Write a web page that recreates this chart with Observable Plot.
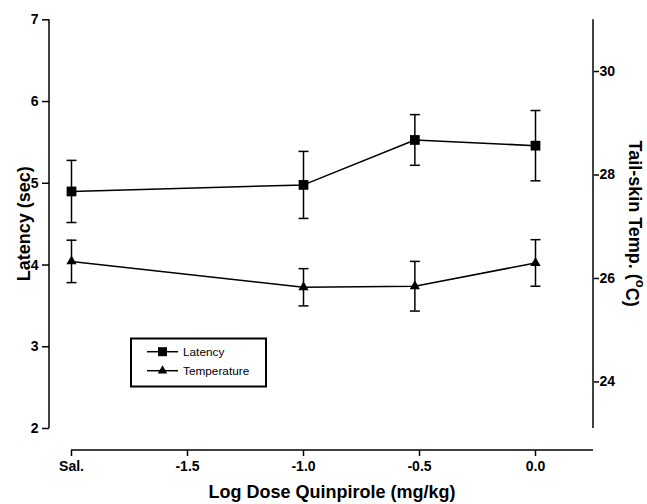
<!DOCTYPE html>
<html><head><meta charset="utf-8">
<script src="https://cdn.jsdelivr.net/npm/d3@7"></script>
<script src="https://cdn.jsdelivr.net/npm/@observablehq/plot@0.6"></script>
<style>body{margin:0;background:#fff}</style>
</head><body><div id="chart"></div>
<script>
const doses = [-2, -1, -0.52, 0];
const latency = [4.90, 4.98, 5.53, 5.46];
const latencyErr = [0.38, 0.41, 0.31, 0.43];
const temperature = [26.33, 25.83, 25.85, 26.30];
const temperatureErr = [0.41, 0.36, 0.48, 0.45];
const xTicks = [-2, -1.5, -1, -0.5, 0];
const xTickLabels = ["Sal.", "-1.5", "-1.0", "-0.5", "0.0"];
const latencyTicks = [2, 3, 4, 5, 6, 7];
const tempTicks = [24, 26, 28, 30];
const xDomain = [-2, 0.25];
const latencyDomain = [2, 7];
const tempDomain = [23.1, 31];
const seriesNames = ["Latency", "Temperature"];

const FONT = "'Liberation Sans', Arial, Helvetica, sans-serif";
const t2l = d3.scaleLinear(tempDomain, latencyDomain);
const l2t = t2l.invert;

const latRows = doses.map((d, i) => ({x: d, y: latency[i], lo: latency[i] - latencyErr[i], hi: latency[i] + latencyErr[i]}));
const tempRows = doses.map((d, i) => ({x: d, y: t2l(temperature[i]), lo: t2l(temperature[i] - temperatureErr[i]), hi: t2l(temperature[i] + temperatureErr[i])}));

const cap = {draw(ctx) { ctx.moveTo(-5, 0); ctx.lineTo(5, 0); }};
const SW = 1.5;
const SQ_R = 5.5, TRI_R = 3.8;

function series(rows, symbol, r) {
  return [
    Plot.ruleX(rows, {x: "x", y1: "lo", y2: "hi", stroke: "black", strokeWidth: SW}),
    Plot.dot(rows, {x: "x", y: "lo", symbol: cap, r: 3, fill: "none", stroke: "black", strokeWidth: SW}),
    Plot.dot(rows, {x: "x", y: "hi", symbol: cap, r: 3, fill: "none", stroke: "black", strokeWidth: SW}),
    Plot.line(rows, {x: "x", y: "y", stroke: "black", strokeWidth: SW}),
    Plot.dot(rows, {x: "x", y: "y", symbol, r, fill: "black", stroke: "none"})
  ];
}

const chart = Plot.plot({
  width: 647,
  height: 504,
  marginTop: 19,
  marginRight: 54,
  marginBottom: 54,
  marginLeft: 49,
  style: {fontFamily: FONT, fontSize: "14px", background: "white", color: "black"},
  x: {domain: xDomain, range: [71, 593]},
  y: {domain: latencyDomain, range: [428, 19.3]},
  marks: [
    Plot.axisX({ticks: xTicks, tickFormat: (d) => xTickLabels[xTicks.indexOf(d)], tickSize: 6, tickPadding: 5, fontSize: 14, fill: "black", strokeWidth: SW, label: null}),
    Plot.axisY({anchor: "left", ticks: latencyTicks, tickFormat: (d) => String(d), tickSize: 7, tickPadding: 4, fontSize: 14, fill: "black", strokeWidth: SW, label: null}),
    Plot.axisY({anchor: "right", ticks: tempTicks.map(t2l), tickFormat: (d) => String(Math.round(l2t(d))), tickSize: 5, tickPadding: 1, fontSize: 14, fill: "black", strokeWidth: SW, label: null}),
    ...series(latRows, "square", SQ_R),
    ...series(tempRows, "triangle", TRI_R)
  ]
});

document.getElementById("chart").appendChild(chart);

const sx = chart.scale("x"), sy = chart.scale("y");
const svg = d3.select(chart);
svg.selectAll('g[aria-label$="tick label"]')
  .style("font-size", "14px").style("font-weight", "bold").attr("fill", "black");
svg.selectAll('g[aria-label$="tick label"] text')
  .style("font-size", "14px").style("font-weight", "bold").attr("fill", "black");
const g = svg.append("g").attr("stroke", "black").attr("stroke-width", SW).attr("fill", "none");
// axis lines
const xL = sx.range[0], xR = sx.range[1];
const yB = sy.apply(latencyDomain[0]), yT = sy.apply(latencyDomain[1]);
const xAxisY = 504 - 54;
g.append("line").attr("x1", 49).attr("x2", 49).attr("y1", yT).attr("y2", yB);
g.append("line").attr("x1", xR).attr("x2", xR).attr("y1", yT).attr("y2", yB);
g.append("line").attr("x1", xL).attr("x2", xR).attr("y1", xAxisY).attr("y2", xAxisY);

// axis titles
const tg = svg.append("g").attr("font-family", FONT).attr("font-weight", "bold").attr("font-size", 18).attr("fill", "black").attr("text-anchor", "middle");
tg.append("text").attr("transform", `translate(332,492)`).attr("dy", "0.35em").text("Log Dose Quinpirole (mg/kg)");
tg.append("text").attr("transform", `translate(24,${(yT + yB) / 2}) rotate(-90)`).attr("dy", "0.35em").text("Latency (sec)");
const rt = tg.append("text").attr("transform", `translate(635,${(yT + yB) / 2}) rotate(90)`).attr("dy", "0.35em");
rt.append("tspan").text("Tail-skin Temp. (");
rt.append("tspan").attr("font-size", 13).attr("dy", "-0.55em").text("o");
rt.append("tspan").attr("dy", "0.55em").text("C)");

// legend
const lg = svg.append("g").attr("text-anchor", "start");
lg.append("rect").attr("x", 131).attr("y", 338.5).attr("width", 135).attr("height", 48).attr("fill", "white").attr("stroke", "black").attr("stroke-width", 2);
const syms = [d3.symbolSquare, d3.symbolTriangle];
const rs = [SQ_R, TRI_R];
seriesNames.forEach((name, i) => {
  const yy = 351.7 + i * 19;
  lg.append("line").attr("x1", 147).attr("x2", 178).attr("y1", yy).attr("y2", yy).attr("stroke", "black").attr("stroke-width", SW);
  lg.append("path").attr("transform", `translate(162.5,${yy})`).attr("d", d3.symbol(syms[i], Math.PI * rs[i] * rs[i] * 0.85)()).attr("fill", "black");
  lg.append("text").attr("x", 183).attr("y", yy).attr("dy", "0.35em").attr("text-anchor", "start").attr("font-family", FONT).attr("font-size", 11.8).attr("fill", "black").text(name);
});
</script>
</body></html>
